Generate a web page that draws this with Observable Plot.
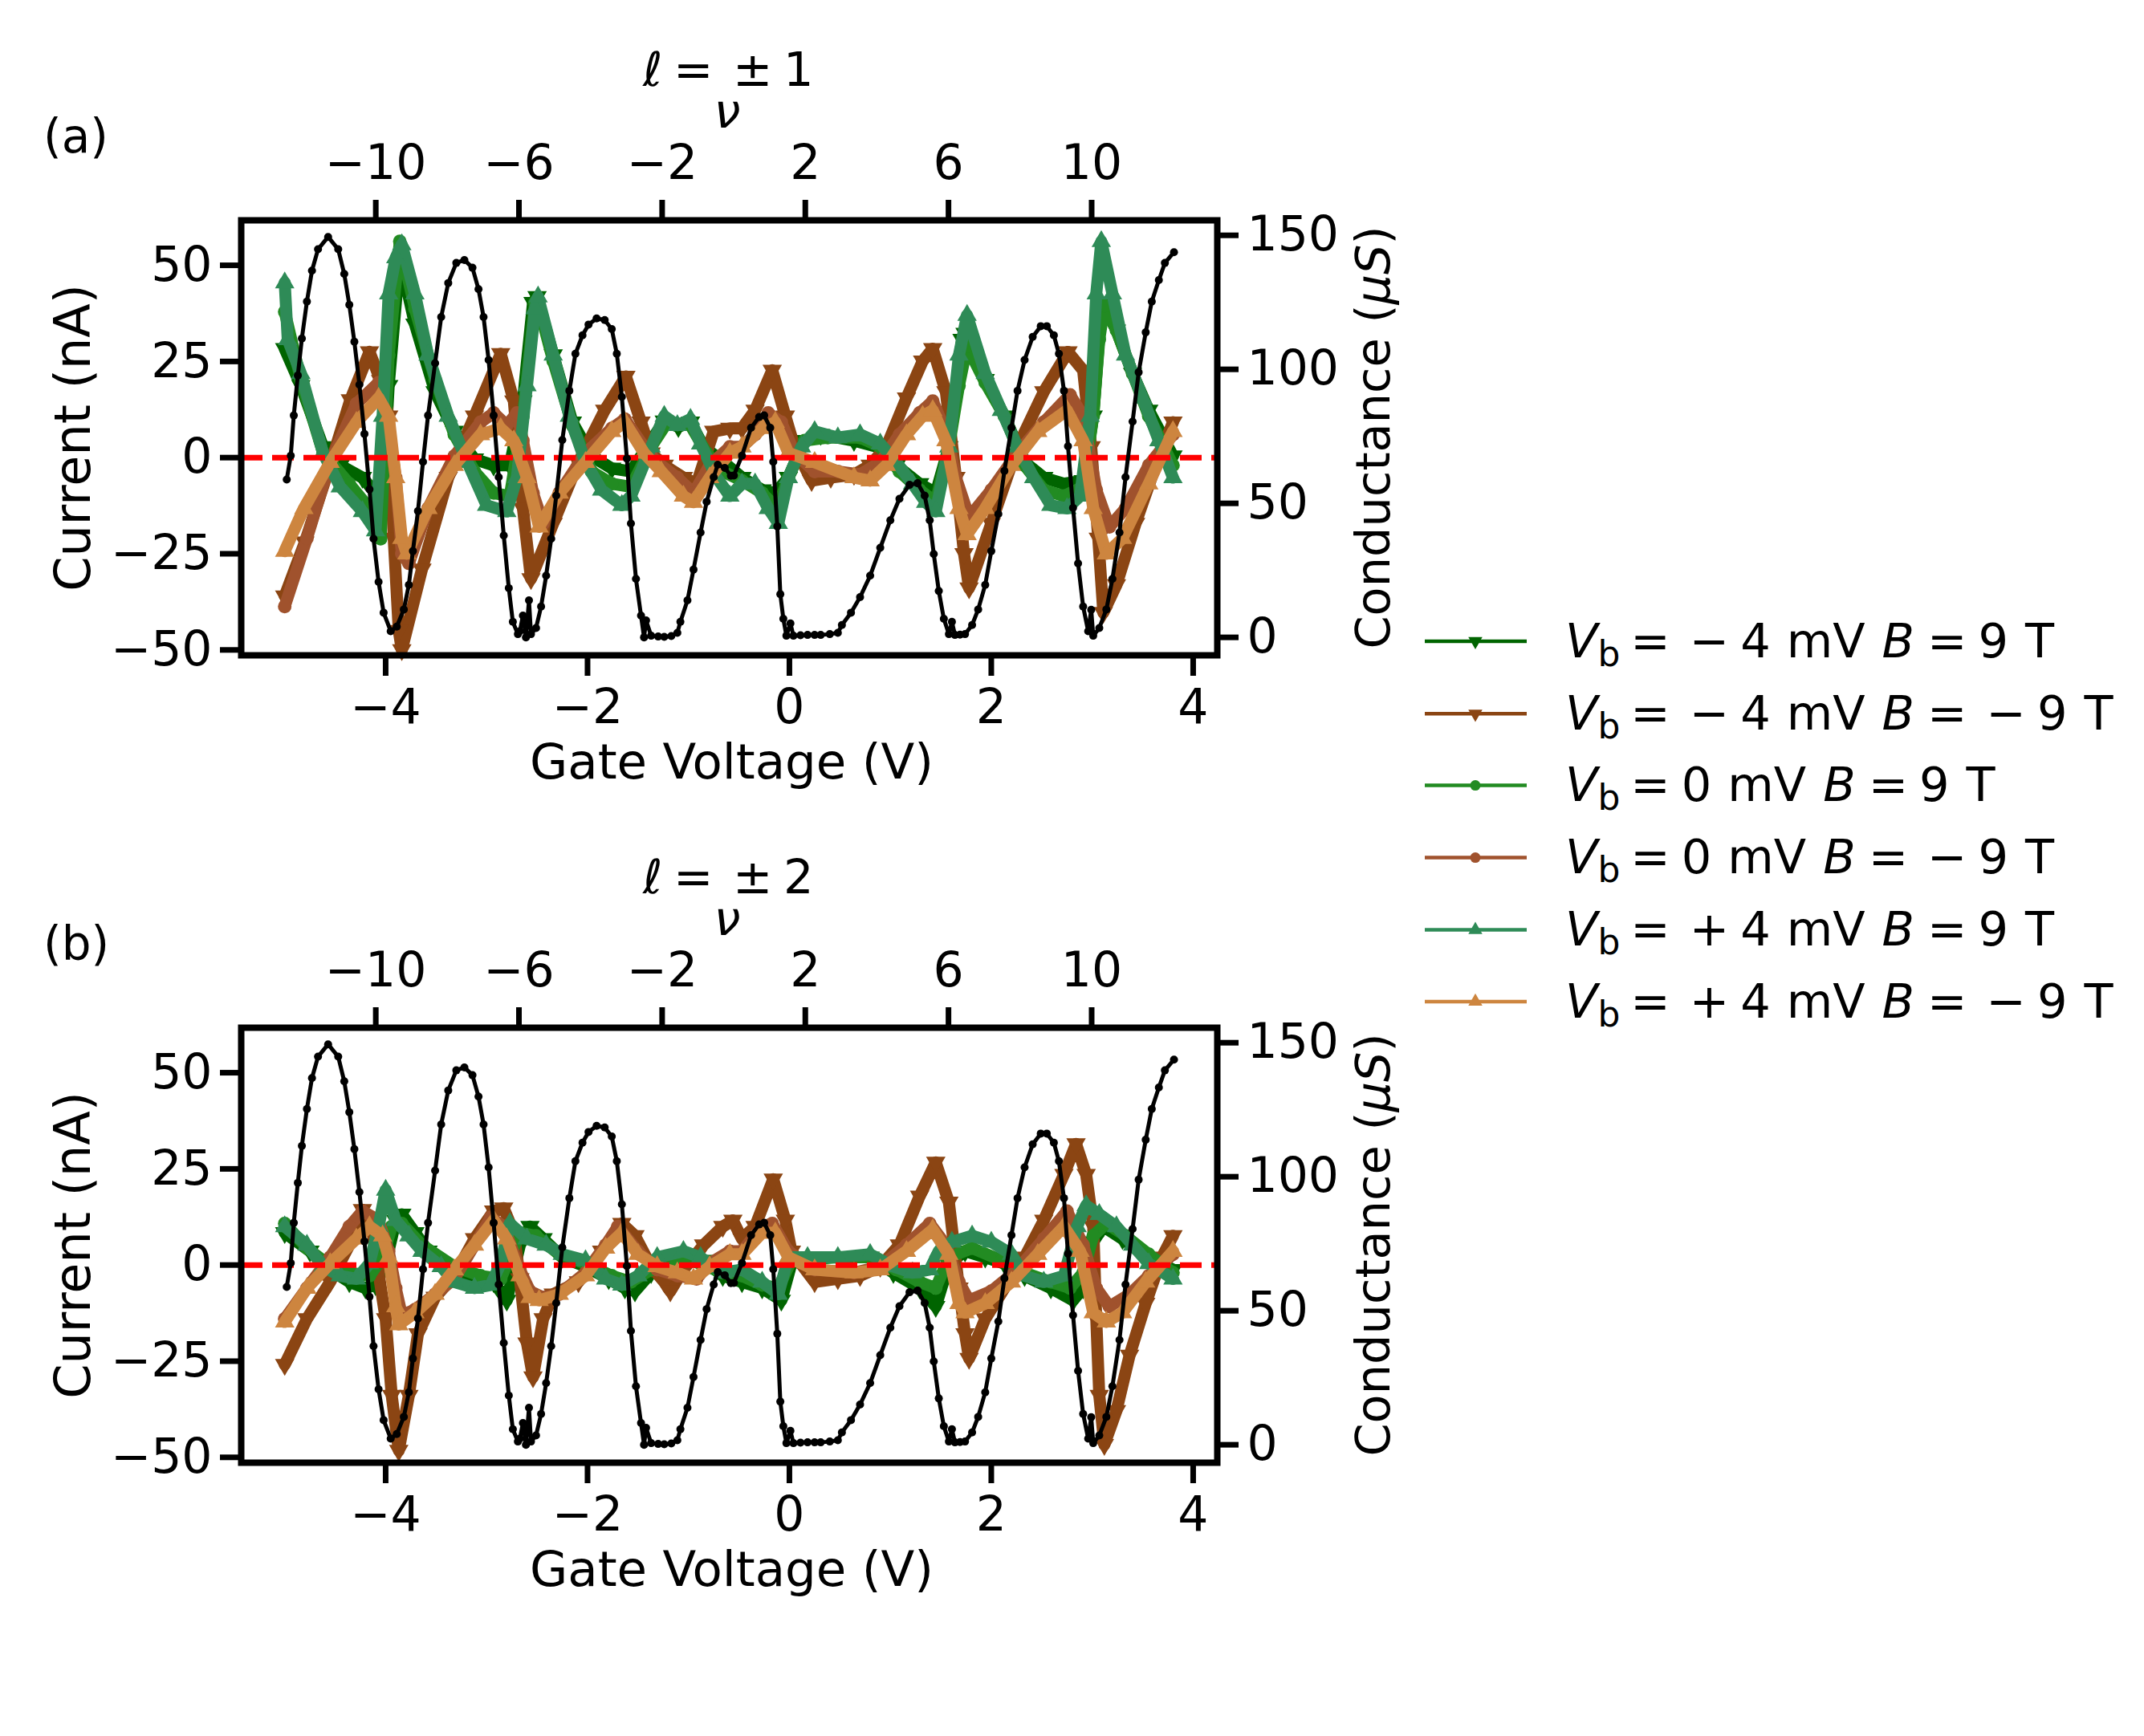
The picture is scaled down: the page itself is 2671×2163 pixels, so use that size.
<!DOCTYPE html>
<html><head><meta charset="utf-8">
<script src="https://cdn.jsdelivr.net/npm/d3@7"></script>
<script src="https://cdn.jsdelivr.net/npm/@observablehq/plot@0.6"></script>
<style>
html,body{margin:0;padding:0;background:#fff;}
#fig{position:relative;width:2671px;height:2163px;background:#fff;font-family:"DejaVu Sans";overflow:hidden}
#fig svg{position:absolute;max-width:none;}
</style></head><body><div id="fig"></div>
<script>
// ---------------- data ----------------
// tick labels
const xTicks = [-4, -2, 0, 2, 4];
const yTicksCurrent = [-50, -25, 0, 25, 50];
const yTicksCond = [0, 50, 100, 150];
const nuTicks = [-10, -6, -2, 2, 6, 10];
const panelTitles = ["± 1", "± 2"];
const panelLetters = ["(a)", "(b)"];

// conductance (µS) vs gate voltage (V), black curve (same in both panels)
const conductance = [[-4.98,58.9],[-4.94,67.8],[-4.91,82.8],[-4.87,97.7],[-4.83,111.5],[-4.78,125.3],[-4.73,136.8],[-4.67,144.8],[-4.57,149.4],[-4.47,144.8],[-4.41,135.6],[-4.36,124.1],[-4.31,110.3],[-4.26,94.3],[-4.21,75.9],[-4.16,55.2],[-4.12,36.8],[-4.07,20.7],[-4.02,9.2],[-3.95,2.3],[-3.89,4.0],[-3.82,10.4],[-3.77,19.6],[-3.73,32.2],[-3.68,47.1],[-3.63,65.5],[-3.58,82.8],[-3.51,102.3],[-3.45,119.5],[-3.38,132.2],[-3.30,139.7],[-3.22,140.8],[-3.14,137.9],[-3.08,129.9],[-3.03,119.5],[-2.98,103.5],[-2.93,82.8],[-2.88,59.8],[-2.83,38.0],[-2.78,18.4],[-2.74,5.8],[-2.69,1.2],[-2.67,2.3],[-2.64,8.1],[-2.61,0],[-2.58,13.8],[-2.56,1.2],[-2.51,3.5],[-2.46,11.5],[-2.41,23.0],[-2.36,36.8],[-2.31,52.9],[-2.25,73.6],[-2.18,92.0],[-2.12,105.8],[-2.05,112.7],[-1.99,116.7],[-1.91,119.0],[-1.83,118.4],[-1.76,115.0],[-1.71,105.8],[-1.66,89.7],[-1.61,66.7],[-1.57,42.5],[-1.52,21.8],[-1.47,8.1],[-1.44,0],[-1.42,6.3],[-1.37,0.6],[-1.30,0.3],[-1.24,0.2],[-1.17,0.5],[-1.11,1.7],[-1.08,5.8],[-1.01,13.8],[-0.95,25.3],[-0.88,39.1],[-0.82,50.6],[-0.75,59.8],[-0.71,64.4],[-0.64,63.2],[-0.58,60.3],[-0.55,60.4],[-0.47,67.8],[-0.38,78.2],[-0.30,82.2],[-0.25,82.8],[-0.19,78.2],[-0.16,65.5],[-0.12,41.4],[-0.09,16.1],[-0.06,6.9],[-0.03,0.6],[0.01,5.2],[0.04,0.6],[0.11,0.8],[0.18,0.9],[0.25,0.9],[0.31,0.9],[0.40,1.2],[0.48,1.7],[0.52,4.6],[0.61,9.2],[0.70,15.0],[0.80,23.0],[0.90,33.4],[1.00,43.7],[1.09,51.7],[1.19,56.9],[1.27,57.5],[1.34,52.9],[1.39,43.7],[1.43,31.1],[1.48,17.3],[1.53,6.9],[1.58,1.2],[1.61,5.8],[1.64,0.9],[1.69,1.0],[1.74,1.2],[1.81,4.6],[1.87,10.4],[1.94,19.6],[2.00,32.2],[2.07,46.0],[2.13,62.1],[2.20,78.2],[2.26,92.0],[2.33,103.5],[2.41,112.1],[2.49,116.1],[2.55,116.1],[2.62,112.7],[2.67,105.8],[2.72,92.0],[2.76,71.3],[2.81,48.3],[2.86,27.6],[2.91,11.5],[2.96,2.3],[2.99,10.3],[3.01,0.6],[3.07,3.5],[3.14,10.4],[3.20,21.8],[3.27,39.1],[3.33,59.8],[3.40,80.5],[3.46,98.9],[3.53,113.8],[3.59,125.3],[3.66,133.3],[3.72,139.7],[3.81,143.7]];

// Panel (a), ℓ = ±1 : current (nA) vs gate voltage (V)
const a_m4_p9 = [[-5.0,28.3],[-4.84,18.7],[-4.62,2.8],[-4.45,-2],[-4.23,-5.2],[-4.10,-9.2],[-4.03,-10],[-3.97,18.7],[-3.87,49],[-3.84,49.8],[-3.71,34.7],[-3.51,17.1],[-3.32,6.8],[-3.12,-0.4],[-2.93,-2],[-2.77,-2],[-2.64,14.7],[-2.54,40.3],[-2.50,41.8],[-2.34,26.7],[-2.15,9.2],[-1.96,0.4],[-1.76,-2.8],[-1.57,-3.6],[-1.37,4.4],[-1.24,9.5],[-1.10,8],[-0.98,9.2],[-0.85,2.8],[-0.66,-1],[-0.47,-5.2],[-0.27,-8.4],[-0.14,-9.2],[-0.01,-5.2],[0.15,4.4],[0.31,6],[0.64,4.4],[0.87,2.8],[1.06,-2],[1.29,-6.8],[1.45,-9.2],[1.58,2.8],[1.71,30.7],[1.74,32.3],[1.94,20.3],[2.13,10.8],[2.33,-1.2],[2.52,-5.2],[2.72,-6.8],[2.91,-6],[3.01,10.8],[3.09,38.7],[3.11,40.3],[3.24,33.1],[3.40,21.9],[3.56,12.3],[3.80,0.4]];
const a_m4_m9 = [[-5.0,-36],[-4.80,-22],[-4.55,-2],[-4.35,15],[-4.16,27.5],[-4.05,20],[-3.97,10.8],[-3.92,-21],[-3.87,-45],[-3.84,-50],[-3.64,-29],[-3.38,-5.2],[-3.12,10.8],[-2.86,27],[-2.73,14.7],[-2.64,-13.2],[-2.56,-31.5],[-2.34,-17.1],[-2.09,-1.2],[-1.83,12.3],[-1.62,21.1],[-1.47,9.2],[-1.37,1.2],[-1.24,-2],[-1.05,-5.2],[-0.92,-6.8],[-0.75,6.8],[-0.59,7.6],[-0.47,7.6],[-0.34,12.3],[-0.17,22.7],[-0.04,10.8],[0.05,2.8],[0.22,-6],[0.41,-5.2],[0.64,-4.4],[0.80,-2],[0.96,2.8],[1.16,15.5],[1.32,25.1],[1.42,28.3],[1.55,17.1],[1.65,-5.2],[1.73,-25],[1.78,-33.9],[2.00,-17.1],[2.26,2.8],[2.52,17.1],[2.76,27.5],[2.91,22.7],[2.99,2.8],[3.06,-21],[3.11,-40.3],[3.24,-33.1],[3.43,-17.1],[3.63,-2],[3.80,9.2]];
const a_0_p9 = [[-5.0,37.9],[-4.84,20.3],[-4.62,1.2],[-4.36,-6.8],[-4.16,-13.2],[-4.05,-21.1],[-3.97,26.7],[-3.86,56.2],[-3.71,38.7],[-3.51,20.3],[-3.32,6],[-3.12,-3.6],[-2.93,-9.2],[-2.77,-10],[-2.64,10.8],[-2.52,40.3],[-2.50,41],[-2.34,25.1],[-2.15,8.4],[-1.96,-3.6],[-1.76,-6.8],[-1.57,-7.6],[-1.37,2.8],[-1.21,9.2],[-0.98,8.4],[-0.82,1.2],[-0.66,-3.6],[-0.47,-6],[-0.27,-9.2],[-0.12,-13.2],[-0.01,-5.2],[0.15,4.4],[0.38,5.2],[0.70,5.2],[0.90,2.8],[1.09,-3.6],[1.29,-8.4],[1.45,-11.6],[1.58,2.8],[1.68,18.7],[1.76,29],[1.94,19.5],[2.13,10.8],[2.33,-2],[2.52,-8.4],[2.72,-10],[2.91,-7.6],[3.01,10.8],[3.07,30.7],[3.12,39.5],[3.24,33.1],[3.40,21.9],[3.56,10.8],[3.80,-2]];
const a_0_m9 = [[-5.0,-38.7],[-4.78,-21],[-4.55,-1.2],[-4.29,14],[-4.07,19.5],[-3.97,7.6],[-3.90,-5.2],[-3.84,-25],[-3.77,-27.5],[-3.58,-13.2],[-3.32,0.4],[-3.06,9.2],[-2.93,11.6],[-2.80,8.4],[-2.70,11.6],[-2.64,4.4],[-2.54,-9.2],[-2.44,-17.1],[-2.28,-9.2],[-2.02,1.2],[-1.76,7.6],[-1.63,10],[-1.44,2.8],[-1.31,-1.2],[-1.11,-5.2],[-0.95,-9.2],[-0.79,-2],[-0.59,2.8],[-0.47,2.8],[-0.34,6],[-0.21,11.6],[-0.08,9.2],[0.05,1.2],[0.25,-3.6],[0.48,-3.6],[0.70,-4.4],[0.90,-1.2],[1.09,6],[1.29,11.6],[1.42,14.7],[1.55,6.8],[1.65,-5.2],[1.78,-15.5],[2.00,-8.4],[2.26,1.2],[2.52,9.2],[2.78,16.3],[2.91,10.8],[3.04,-8.4],[3.17,-18],[3.33,-13.2],[3.56,-2],[3.80,6]];
const a_p4_p9 = [[-5.0,45.5],[-4.97,30.7],[-4.84,21.9],[-4.62,1.2],[-4.45,-7.6],[-4.23,-14],[-4.10,-19],[-4.03,10.8],[-3.97,42.6],[-3.90,52],[-3.84,55.4],[-3.71,42.6],[-3.58,26.7],[-3.38,10.8],[-3.19,-1.2],[-3.0,-12.4],[-2.80,-14],[-2.70,-5.2],[-2.60,18.7],[-2.52,38.7],[-2.49,41.8],[-2.34,26.7],[-2.18,10.8],[-2.02,-1.2],[-1.86,-8.4],[-1.66,-12.4],[-1.57,-10],[-1.37,2.8],[-1.24,10.8],[-1.11,8.4],[-0.98,10],[-0.88,3.6],[-0.72,-5.2],[-0.59,-10],[-0.47,-6.8],[-0.34,-6.8],[-0.21,-13.2],[-0.11,-17.1],[-0.01,-5.2],[0.12,2.8],[0.25,6.8],[0.48,5.2],[0.70,6],[0.90,3.6],[1.06,-1.2],[1.22,-6.8],[1.35,-11.6],[1.45,-14],[1.58,2.8],[1.68,26.7],[1.76,37],[1.94,21.9],[2.10,12.3],[2.26,2.8],[2.42,-5.2],[2.59,-12.4],[2.75,-13.2],[2.88,-10],[2.98,10.8],[3.04,42.6],[3.09,56.2],[3.20,42.6],[3.33,26.7],[3.50,15.5],[3.66,4.4],[3.80,-5.2]];
const a_p4_m9 = [[-5.0,-24.3],[-4.81,-13.2],[-4.55,-1.2],[-4.29,9.2],[-4.07,15.5],[-3.97,10.8],[-3.90,-5.2],[-3.84,-21],[-3.79,-25],[-3.58,-13.2],[-3.32,-2],[-3.06,6],[-2.86,7.6],[-2.73,4.4],[-2.60,-5.2],[-2.48,-18],[-2.28,-9.2],[-2.02,-1.2],[-1.76,6.8],[-1.63,9.2],[-1.44,1.2],[-1.27,-3.6],[-1.05,-10],[-0.95,-11.6],[-0.79,-5.2],[-0.59,1.2],[-0.47,2.8],[-0.27,7.6],[-0.14,9.2],[-0.01,1.2],[0.25,-1.2],[0.64,-5.2],[0.80,-6],[0.96,-2],[1.16,6],[1.32,10.8],[1.42,12.3],[1.55,4.4],[1.68,-13.2],[1.76,-20],[1.94,-13.2],[2.20,-2],[2.46,6.8],[2.75,12.3],[2.91,4.4],[3.01,-13.2],[3.14,-25],[3.30,-21],[3.56,-6.8],[3.80,6.8]];

// Panel (b), ℓ = ±2
const b_m4_p9 = [[-5.0,8.4],[-4.75,3.6],[-4.55,-1.2],[-4.36,-4.4],[-4.20,-6],[-4.10,-5.2],[-4.0,0.4],[-3.90,11.6],[-3.84,13.2],[-3.71,8.4],[-3.58,3.6],[-3.32,-2],[-3.06,-3.6],[-2.93,-4.4],[-2.80,-9.2],[-2.67,5.2],[-2.57,10],[-2.44,6.8],[-2.25,2],[-2.02,-0.4],[-1.79,-3.6],[-1.63,-6],[-1.53,-6.8],[-1.37,-2],[-1.05,2],[-0.85,1.2],[-0.66,-2.8],[-0.47,-4.4],[-0.27,-6],[-0.08,-9.2],[0.02,0.4],[0.31,2],[0.80,2],[1.03,-2],[1.29,-6],[1.45,-10.8],[1.58,0.4],[1.74,3.6],[1.94,2],[2.13,0.4],[2.33,-2.8],[2.59,-6],[2.81,-9.2],[2.91,-6],[3.01,6],[3.11,10],[3.30,6.8],[3.50,2.8],[3.80,-1.2]];
const b_m4_m9 = [[-5.0,-25.9],[-4.78,-14],[-4.55,-4.4],[-4.36,5.2],[-4.23,14.4],[-4.13,8.4],[-4.07,-2],[-4.0,-14],[-3.94,-33.9],[-3.87,-48.2],[-3.77,-33.9],[-3.68,-17.9],[-3.51,-8.4],[-3.32,-2.8],[-3.12,6.8],[-2.93,14],[-2.83,14.8],[-2.73,8.4],[-2.67,-3.6],[-2.60,-20.3],[-2.54,-29.1],[-2.44,-14],[-2.34,-7.6],[-2.09,-4.4],[-1.86,3.6],[-1.66,10.8],[-1.53,7.6],[-1.37,-0.4],[-1.24,-4.4],[-1.18,-6.8],[-1.05,-1.2],[-0.85,5.2],[-0.66,10],[-0.56,11.6],[-0.47,6.8],[-0.34,10],[-0.16,22.3],[-0.04,11.6],[0.02,3.6],[0.25,-4.4],[0.48,-3.6],[0.70,-2.8],[0.90,-0.4],[1.09,5.2],[1.29,17.9],[1.45,26.7],[1.58,16.3],[1.68,-6],[1.74,-17.9],[1.78,-24.3],[1.94,-14],[2.13,-6],[2.33,2],[2.52,11.6],[2.72,23.5],[2.84,31.5],[2.94,23.5],[3.01,10],[3.04,-14],[3.07,-33.9],[3.12,-46.7],[3.24,-37.9],[3.37,-23.5],[3.53,-10],[3.69,2],[3.80,7.6]];
const b_0_p9 = [[-5.0,10.8],[-4.78,4.4],[-4.62,1.2],[-4.36,-2],[-4.16,-2.8],[-4.03,2],[-3.94,10],[-3.84,10.8],[-3.64,5.2],[-3.32,-0.4],[-3.06,-2.8],[-2.86,-3.6],[-2.77,2],[-2.67,8.4],[-2.51,7.6],[-2.28,2.8],[-2.02,0.4],[-1.76,-2.8],[-1.57,-4.4],[-1.37,-1.2],[-1.05,2],[-0.66,-2],[-0.47,-2.8],[-0.27,-5.2],[-0.11,-6],[0.02,1.2],[0.48,2],[0.80,2],[1.06,-1.2],[1.29,-4.4],[1.45,-6],[1.58,2],[1.81,4.4],[2.10,1.2],[2.33,-2],[2.59,-4.4],[2.78,-6],[2.91,-2],[3.01,7.6],[3.14,10.8],[3.33,7.6],[3.56,2.8],[3.80,-2]];
const b_0_m9 = [[-5.0,-14],[-4.78,-6],[-4.55,2],[-4.36,10],[-4.23,14],[-4.07,11.6],[-3.97,3.6],[-3.90,-6],[-3.84,-13],[-3.71,-11.6],[-3.51,-7.6],[-3.32,-3.6],[-3.12,5.2],[-2.96,12.4],[-2.83,10],[-2.67,-1.2],[-2.57,-6.8],[-2.44,-8.4],[-2.28,-7.6],[-2.02,-2],[-1.82,5.2],[-1.70,10],[-1.50,3.6],[-1.31,-1.2],[-1.11,-2.8],[-0.92,-3.6],[-0.79,0.4],[-0.59,3.6],[-0.47,3.6],[-0.27,10],[-0.17,10.8],[-0.01,3.6],[0.25,-1.2],[0.64,-2],[0.90,-0.4],[1.16,5.2],[1.39,10.8],[1.55,5.2],[1.68,-4.4],[1.78,-9.2],[2.0,-6.8],[2.26,-1.2],[2.52,6.8],[2.75,14],[2.91,5.2],[3.04,-6],[3.17,-10.8],[3.37,-7.6],[3.56,-2.8],[3.80,2.8]];
const b_p4_p9 = [[-5.0,10],[-4.78,5.2],[-4.62,-0.4],[-4.45,-2.8],[-4.29,-3.6],[-4.16,0.4],[-4.07,10],[-4.0,19.5],[-3.90,11.6],[-3.77,7.6],[-3.64,3.6],[-3.45,-0.4],[-3.32,-4.4],[-3.12,-6],[-2.96,-5.2],[-2.86,0.4],[-2.77,10.8],[-2.60,6.8],[-2.41,5.2],[-2.25,2.8],[-2.02,1.2],[-1.82,-3.6],[-1.66,-5.2],[-1.50,-2.8],[-1.31,2],[-1.05,3.6],[-0.88,2],[-0.66,-2],[-0.47,-1.2],[-0.27,-4.4],[-0.11,-7.6],[-0.01,2],[0.18,2],[0.48,2],[0.80,2.8],[1.03,-0.4],[1.22,-2],[1.39,-1.2],[1.48,3.6],[1.61,6],[1.81,7.6],[2.0,6],[2.20,2.8],[2.33,-2.8],[2.52,-4.4],[2.72,-2.8],[2.85,10],[2.94,15.5],[3.07,13.2],[3.24,10],[3.40,5.2],[3.56,0.4],[3.80,-3.6]];
const b_p4_m9 = [[-5.0,-14.8],[-4.78,-6],[-4.55,0.4],[-4.29,6.8],[-4.16,10],[-4.03,7.6],[-3.97,2],[-3.90,-10.8],[-3.87,-15.5],[-3.71,-12.4],[-3.51,-7.6],[-3.32,-1.2],[-3.12,5.2],[-2.93,11.6],[-2.80,6.8],[-2.67,-2.8],[-2.57,-8.4],[-2.48,-9.2],[-2.28,-7.6],[-2.02,-2.8],[-1.82,4.4],[-1.66,8.4],[-1.50,2.8],[-1.31,-0.4],[-1.11,-2],[-0.95,-3.6],[-0.79,-0.4],[-0.59,2.8],[-0.47,2.8],[-0.27,8.4],[-0.14,8.4],[-0.01,2],[0.25,-1.2],[0.64,-2],[0.90,-1.2],[1.16,3.6],[1.42,9.2],[1.58,2.8],[1.68,-10],[1.74,-12.4],[1.94,-10],[2.20,-4.4],[2.46,2.8],[2.72,10],[2.88,3.6],[3.01,-12.4],[3.14,-14.8],[3.30,-12.4],[3.53,-4.4],[3.80,3.6]];

// series metadata (legend order)
const seriesVb = ["−4", "−4", "0", "0", "+4", "+4"];
const seriesB = ["9", "−9", "9", "−9", "9", "−9"];
const seriesColors = ["#006400", "#8B4513", "#228B22", "#A0522D", "#2E8B57", "#CD853F"];
const seriesMarkers = ["down", "down", "circle", "circle", "up", "up"];
const panelA = [a_m4_p9, a_m4_m9, a_0_p9, a_0_m9, a_p4_p9, a_p4_m9];
const panelB = [b_m4_p9, b_m4_m9, b_0_p9, b_0_m9, b_p4_p9, b_p4_m9];

// ---------------- drawing ----------------
const fig = document.getElementById("fig");
const FONT = "DejaVu Sans";
const W = 1800, H = 1000, mL = 300, mR = 284, mT = 274, mB = 184;
const xDomain = [-5.431, 4.239];
const nuDomain = [-13.76, 13.51];
const iDomain = [-51.4, 61.7];
const gDomain = [-6.7, 155.6];
const minus = d => d < 0 ? "\u2212" + Math.abs(d) : String(d);

const sqrt3 = Math.sqrt(3);
const triDown = {draw(ctx, size) {
  const y = Math.sqrt(size / (sqrt3 * 3));
  ctx.moveTo(0, 2 * y); ctx.lineTo(sqrt3 * y, -y); ctx.lineTo(-sqrt3 * y, -y); ctx.closePath();
}};
function symbolFor(m) { return m === "down" ? triDown : m === "up" ? "triangle" : "circle"; }

const baseStyle = {fontFamily: FONT, color: "black", background: "transparent", overflow: "visible"};

function place(el, top) {
  el.style.position = "absolute"; el.style.left = "0px"; el.style.top = top + "px";
  el.style.maxWidth = "none"; el.style.background = "transparent";
  fig.appendChild(el);
}

function drawPanel(seriesData, top) {
  const marks = [];
  seriesData.forEach((data, i) => {
    marks.push(Plot.line(data, {x: d => d[0], y: d => d[1], stroke: seriesColors[i], strokeWidth: 15, strokeLinejoin: "round", strokeLinecap: "round"}));
    marks.push(Plot.dot(data, {x: d => d[0], y: d => d[1], fill: seriesColors[i], stroke: "none", symbol: symbolFor(seriesMarkers[i]), r: seriesMarkers[i] === "circle" ? 8.5 : 9}));
  });
  marks.push(Plot.ruleY([0], {stroke: "#FF0000", strokeWidth: 7, strokeDasharray: "27,12"}));
  marks.push(Plot.frame({stroke: "black", strokeWidth: 8}));
  marks.push(Plot.axisX({anchor: "bottom", ticks: xTicks, tickSize: 26, tickPadding: 16, strokeWidth: 7, fontSize: 60, tickFormat: minus, label: null}));
  marks.push(Plot.axisY({anchor: "left", ticks: yTicksCurrent, tickSize: 26, tickPadding: 10, strokeWidth: 7, fontSize: 60, tickFormat: minus, label: null}));
  marks.push(Plot.text(["Current (nA)"], {text: d => d, frameAnchor: "left", rotate: -90, dx: -208, fontSize: 62, textAnchor: "middle", lineAnchor: "middle"}));
  marks.push(Plot.text(["Gate Voltage (V)"], {text: d => d, frameAnchor: "bottom", dx: 3, dy: 134, fontSize: 61, textAnchor: "middle", lineAnchor: "middle"}));
  const pA = Plot.plot({width: W, height: H, marginLeft: mL, marginRight: mR, marginTop: mT, marginBottom: mB,
    x: {domain: xDomain}, y: {domain: iDomain}, style: baseStyle, marks});
  place(pA, top);

  const pB = Plot.plot({width: W, height: H, marginLeft: mL, marginRight: mR, marginTop: mT, marginBottom: mB,
    x: {domain: xDomain, axis: null}, y: {domain: gDomain}, style: baseStyle,
    marks: [
      Plot.line(conductance, {x: d => d[0], y: d => d[1], stroke: "black", strokeWidth: 5}),
      Plot.dot(conductance, {x: d => d[0], y: d => d[1], fill: "black", r: 5}),
      Plot.axisY({anchor: "right", ticks: yTicksCond, tickSize: 26, tickPadding: 11, strokeWidth: 7, fontSize: 60, tickFormat: minus, label: null})
    ]});
  place(pB, top);

  const pC = Plot.plot({width: W, height: H, marginLeft: mL, marginRight: mR, marginTop: mT, marginBottom: mB,
    x: {domain: nuDomain}, style: baseStyle,
    marks: [
      Plot.axisX({anchor: "top", ticks: nuTicks, tickSize: 26, tickPadding: 26, strokeWidth: 7, fontSize: 60, tickFormat: minus, label: null})
    ]});
  place(pC, top);
}

drawPanel(panelA, 0);
drawPanel(panelB, 1006);

// ---------------- annotations: titles, panel letters, right label, legend ----------------
const NS = "http://www.w3.org/2000/svg";
let s = `<svg xmlns="${NS}" width="2671" height="2163" style="position:absolute;left:0;top:0;overflow:visible" font-family="${FONT}" fill="black">`;
[0, 1006].forEach((off, k) => {
  s += `<text y="${106.6 + off}" font-size="59"><tspan x="801">ℓ</tspan><tspan x="839">=</tspan><tspan x="913">${panelTitles[k].split(" ")[0]}</tspan><tspan x="976">${panelTitles[k].split(" ")[1]}</tspan></text>`;
  s += `<text x="906" y="${159 + off}" font-size="59" font-style="italic" text-anchor="middle">ν</text>`;
  s += `<text x="54" y="${190 + off}" font-size="58">${panelLetters[k]}</text>`;
  s += `<text transform="translate(1731,${545 + off}) rotate(-90)" text-anchor="middle" font-size="59">Conductance (<tspan font-style="italic">μS</tspan>)</text>`;
});
const rowY = [798.9, 889.3, 978.6, 1068.6, 1158.6, 1247.9];
function valueTspans(v) {
  if (v[0] === "−" || v[0] === "+") return `<tspan dx="24">${v[0]}</tspan><tspan dx="14">${v.slice(1)}</tspan>`;
  return `<tspan dx="14">${v}</tspan>`;
}
rowY.forEach((ly, i) => {
  const c = seriesColors[i];
  s += `<line x1="1775" x2="1902" y1="${ly}" y2="${ly}" stroke="${c}" stroke-width="4.5"/>`;
  let path;
  if (seriesMarkers[i] === "circle") path = d3.symbol(d3.symbolCircle, Math.PI * 6.5 * 6.5)();
  else if (seriesMarkers[i] === "up") path = d3.symbol(d3.symbolTriangle, Math.PI * 6.5 * 6.5)();
  else path = d3.symbol(triDown, Math.PI * 6.5 * 6.5)();
  s += `<path d="${path}" transform="translate(1838,${ly})" fill="${c}"/>`;
  s += `<text x="1950" y="${ly + 19.7}" font-size="59"><tspan font-style="italic">V</tspan><tspan font-size="44" dy="11">b</tspan><tspan dy="-11" dx="13">=</tspan>${valueTspans(seriesVb[i])}<tspan dx="20">mV</tspan><tspan dx="21" font-style="italic">B</tspan><tspan dx="16">=</tspan>${valueTspans(seriesB[i])}<tspan dx="21">T</tspan></text>`;
});
s += `</svg>`;
const holder = document.createElement("div");
holder.innerHTML = s;
fig.appendChild(holder.firstChild);
</script></body></html>
